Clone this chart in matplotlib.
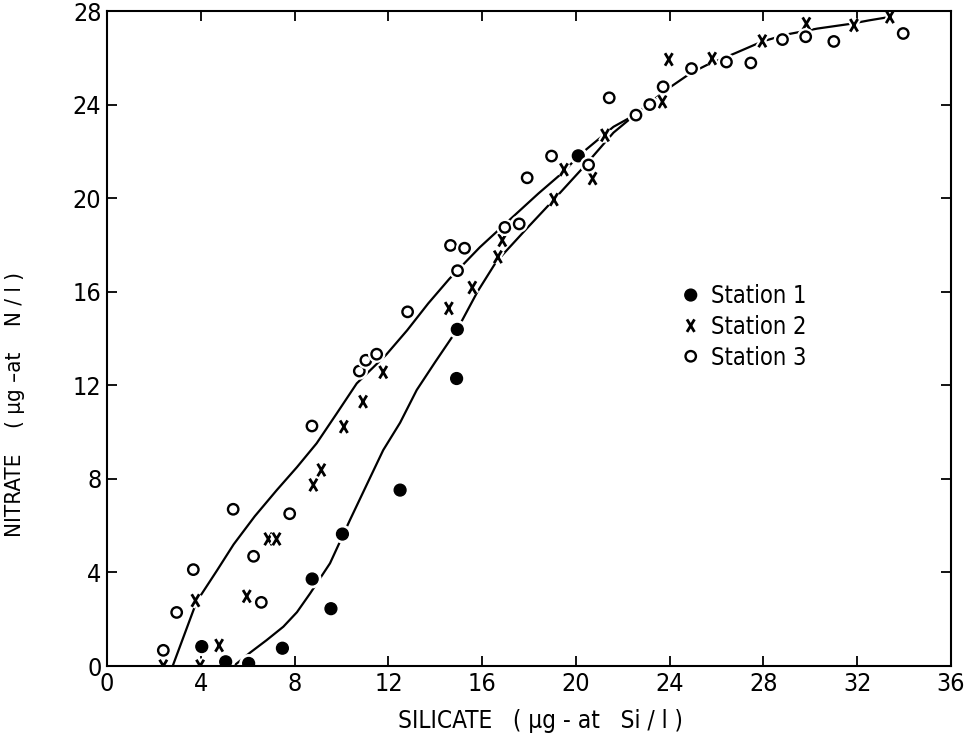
import numpy as np
import matplotlib
matplotlib.use('Agg')
import matplotlib.pyplot as plt
from matplotlib.path import Path
import matplotlib.patheffects as pe

plt.rcParams['font.family'] = ['DejaVu Sans']
plt.rcParams['font.stretch'] = 'condensed'

# station observations: silicate (x) vs nitrate (y), ug-at/l
st1_si = [4.04, 5.06, 6.04, 7.48, 8.75, 9.55, 10.04, 12.5, 14.91, 14.94, 20.1]
st1_no3 = [0.83, 0.18, 0.11, 0.76, 3.72, 2.45, 5.64, 7.52, 12.29, 14.39, 21.81]

st2_si = [2.4, 3.77, 3.97, 4.78, 5.96, 6.88, 7.23, 8.8, 9.14, 10.1, 10.92, 11.78,
          14.58, 15.58, 16.67, 16.86, 19.06, 19.49, 20.71, 21.24, 23.69, 23.96,
          25.81, 27.95, 29.83, 31.86, 33.39]
st2_no3 = [0.0, 2.8, 0.0, 0.88, 2.98, 5.43, 5.43, 7.74, 8.38, 10.23, 11.3, 12.56,
           15.29, 16.18, 17.49, 18.2, 19.94, 21.22, 20.84, 22.69, 24.12, 25.93,
           25.97, 26.72, 27.46, 27.39, 27.75]

st3_si = [2.4, 2.97, 3.68, 5.38, 6.25, 6.58, 7.79, 8.74, 10.76, 11.04, 11.5, 12.82,
          14.65, 14.95, 15.25, 16.97, 17.58, 17.92, 18.96, 20.54, 21.42, 22.56,
          23.15, 23.72, 24.93, 26.42, 27.46, 28.81, 29.8, 31.0, 33.96]
st3_no3 = [0.67, 2.29, 4.12, 6.7, 4.69, 2.72, 6.51, 10.26, 12.61, 13.07, 13.33, 15.14,
           17.98, 16.9, 17.86, 18.75, 18.9, 20.87, 21.8, 21.42, 24.29, 23.55,
           24.0, 24.76, 25.54, 25.82, 25.78, 26.78, 26.9, 26.7, 27.04]

# hand-fitted curves (vertices)
upper_si = [2.8, 3.82, 4.7, 5.4, 6.3, 7.24, 8.1, 8.94, 9.8, 10.65, 11.9, 12.8, 13.7,
            14.6, 15.9, 17.2, 18.4, 19.5, 20.1, 21.6, 22.5, 23.3, 24.1, 24.9, 25.6,
            26.8, 27.95, 29.0, 30.3, 31.7, 32.5, 33.4]
upper_no3 = [0.0, 2.75, 4.1, 5.2, 6.4, 7.52, 8.5, 9.52, 10.8, 12.08, 13.3, 14.35, 15.5,
             16.55, 17.9, 19.1, 20.2, 21.15, 21.8, 23.05, 23.55, 24.2, 24.8, 25.35, 25.7,
             26.2, 26.7, 27.0, 27.25, 27.45, 27.6, 27.75]

lower_si = [5.4, 6.1, 6.8, 7.52, 8.1, 8.66, 9.51, 10.36, 11.1, 11.78, 12.5, 13.21,
            14.0, 14.94, 15.8, 16.6, 17.9, 19.06, 20.3, 21.6, 22.5]
lower_no3 = [0.0, 0.57, 1.1, 1.68, 2.3, 3.1, 4.39, 6.24, 7.8, 9.23, 10.4, 11.8,
             13.0, 14.39, 16.0, 17.28, 18.7, 19.94, 21.3, 22.8, 23.55]

xticks = np.arange(0, 37, 4)
yticks = np.arange(0, 29, 4)

# narrow lettering-style cross
cross = Path([(-0.6, -1), (0.6, 1), (-0.6, 1), (0.6, -1)],
             [Path.MOVETO, Path.LINETO, Path.MOVETO, Path.LINETO])

fig = plt.figure(figsize=(9.67, 7.5), dpi=100)
ax = fig.add_axes([0.1107, 0.112, 0.8728, 0.8733])

ax.plot(upper_si, upper_no3, color='black', lw=1.6, solid_capstyle='butt')
ax.plot(lower_si, lower_no3, color='black', lw=1.6, solid_capstyle='butt')

# white halo round each marker leaves the small gaps in the curves
halo = [pe.withStroke(linewidth=5, foreground='white')]
ax.plot(st1_si, st1_no3, ls='none', marker='o', ms=8.5, mfc='black', mec='black',
        path_effects=halo, label='Station 1')
ax.plot(st2_si, st2_no3, ls='none', marker=cross, ms=9, mec='black', mew=2.0,
        path_effects=halo, label='Station 2')
ax.plot(st3_si, st3_no3, ls='none', marker='o', ms=7.5, mfc='white', mec='black',
        mew=1.7, path_effects=halo, label='Station 3')

ax.set_xlim(0, 36)
ax.set_ylim(0, 28)
ax.set_xticks(xticks)
ax.set_yticks(yticks)
ax.tick_params(direction='in', length=7, width=1.3, top=True, right=True,
               labelsize=18, pad=4)
for s in ax.spines.values():
    s.set_linewidth(1.5)

ax.set_xlabel('SILICATE   ( \u03bcg - at   Si / l )', fontsize=17.5)
ax.set_ylabel('NITRATE    ( \u03bcg \u2013at    N / l )', fontsize=16)
ax.xaxis.set_label_coords(0.514, -0.066)
ax.yaxis.set_label_coords(-0.097, 0.40)

leg = ax.legend(loc='upper left', bbox_to_anchor=(0.658, 0.608), frameon=False,
                fontsize=17, handlelength=1.0, handletextpad=0.35,
                labelspacing=0.28, borderpad=0.2)

fig.savefig('out.png', dpi=100)
